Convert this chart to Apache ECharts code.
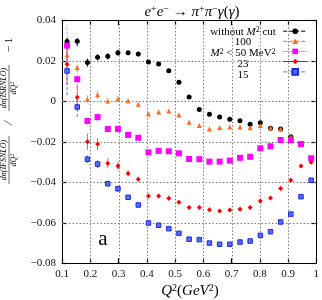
<!DOCTYPE html>
<html><head><meta charset="utf-8">
<script src="https://cdn.jsdelivr.net/npm/echarts@6/dist/echarts.min.js"></script>
<style>html,body{margin:0;padding:0;background:#fff}#c{width:322px;height:300px}</style>
</head><body><div id="c"></div>
<script>
// Q^2 bin centres (GeV^2)
const q2 = [0.118, 0.154, 0.190, 0.226, 0.262, 0.298, 0.334, 0.370, 0.406, 0.442, 0.478, 0.514, 0.550,
            0.586, 0.622, 0.658, 0.694, 0.730, 0.766, 0.802, 0.838, 0.874, 0.910, 0.946, 0.982];
const xTicks = [0.1, 0.2, 0.3, 0.4, 0.5, 0.6, 0.7, 0.8, 0.9, 1];
const yTicks = [-0.08, -0.06, -0.04, -0.02, 0, 0.02, 0.04];
const seriesNames = ['without M2 cut', '100', 'M2 < 50 MeV2', '23', '15'];

const noCut = [0.0295, 0.0297, 0.0191, 0.0217, 0.0222, 0.0240, 0.0240, 0.0234, 0.0194, 0.0184, 0.0151, 0.0094, 0.0021,
               -0.0040, -0.0064, -0.0078, -0.0089, -0.0096, -0.0113, -0.0106, -0.0133, -0.0137, -0.0175, null, null];
const cut100 = [0.0229, 0.0167, 0.0010, 0.0032, 0.0001, 0.0011, 0.0003, -0.0015, -0.0063, -0.0053, -0.0048, -0.0068, -0.0104,
                -0.0119, -0.0137, -0.0131, -0.0127, -0.0127, -0.0130, -0.0119, -0.0131, -0.0137, -0.0175, null, null];
const cut50 = [0.0275, 0.0109, -0.0097, -0.0078, -0.0137, -0.0137, -0.0166, -0.0180, -0.0252, -0.0245, -0.0247, -0.0257, -0.0285,
               -0.0286, -0.0298, -0.0298, -0.0293, -0.0279, -0.0274, -0.0232, -0.0222, -0.0191, -0.0192, -0.0211, -0.0281];
const cut23 = [0.0183, 0.0020, -0.0200, -0.0211, -0.0306, -0.0320, -0.0356, -0.0385, -0.0468, -0.0468, -0.0479, -0.0499, -0.0525,
               -0.0525, -0.0535, -0.0542, -0.0537, -0.0533, -0.0525, -0.0492, -0.0478, -0.0430, -0.0390, -0.0319, -0.0301];
const cut15 = [0.0150, -0.0028, -0.0286, -0.0310, -0.0407, -0.0432, -0.0474, -0.0512, -0.0601, -0.0612, -0.0629, -0.0652, -0.0681,
               -0.0683, -0.0700, -0.0706, -0.0706, -0.0695, -0.0690, -0.0662, -0.0644, -0.0596, -0.0557, -0.0471, -0.0390];

const errNoCut = [0.0020, 0.0025, 0.0020, 0.0015, 0.0015, 0.0015, 0.0012, 0.0012, 0.0010, 0.0010, 0.0010, 0.0010, 0.0010,
                  0.0010, 0.0010, 0.0010, 0.0010, 0.0010, 0.0010, 0.0010, 0.0010, 0.0010, 0.0010, null, null];
const err100 = [0.0040, 0.0025, 0.0020, 0.0020, 0.0015, 0.0015, 0.0012, 0.0012, 0.0010, 0.0010, 0.0010, 0.0010, 0.0010,
                0.0010, 0.0010, 0.0010, 0.0010, 0.0010, 0.0010, 0.0010, 0.0010, 0.0010, 0.0010, null, null];
const err50 = [0.0110, 0.0040, 0.0020, 0.0020, 0.0015, 0.0015, 0.0012, 0.0012, 0.0010, 0.0010, 0.0010, 0.0010, 0.0010,
               0.0010, 0.0010, 0.0010, 0.0010, 0.0010, 0.0010, 0.0010, 0.0010, 0.0010, 0.0010, 0.0010, 0.0010];
const err23 = [0.0100, 0.0060, 0.0040, 0.0030, 0.0025, 0.0020, 0.0015, 0.0012, 0.0010, 0.0010, 0.0010, 0.0010, 0.0010,
               0.0010, 0.0010, 0.0010, 0.0010, 0.0010, 0.0010, 0.0010, 0.0010, 0.0010, 0.0010, 0.0010, 0.0010];
const err15 = [0.0120, 0.0050, 0.0020, 0.0020, 0.0015, 0.0015, 0.0012, 0.0012, 0.0010, 0.0010, 0.0010, 0.0010, 0.0010,
               0.0010, 0.0010, 0.0010, 0.0010, 0.0010, 0.0010, 0.0010, 0.0010, 0.0010, 0.0010, 0.0010, 0.0010];

const FONT = '"Liberation Serif", "DejaVu Serif", serif';
const styles = [
  {vals: noCut, err: errNoCut, color: '#000000', border: '#000000', bar: '#000000', symbol: 'circle', size: 5, dash: [3, 2], type: 'dashed'},
  {vals: cut100, err: err100, color: '#ff6a1f', border: '#ff6a1f', bar: '#ff9a66', symbol: 'triangle', size: 5, dash: [3, 2], type: 'dashed'},
  {vals: cut50, err: err50, color: '#ff00ff', border: '#ff00ff', bar: '#ff66ff', symbol: 'rect', size: 6, dash: [1, 1.5], type: 'dotted'},
  {vals: cut23, err: err23, color: '#ff0000', border: '#ff0000', bar: '#ff5555', symbol: 'diamond', size: 5, dash: null, type: 'solid'},
  {vals: cut15, err: err15, color: '#5a6bff', border: '#1a2ae0', bar: '#5566ff', symbol: 'rect', size: 4.5, dash: [3, 2], type: 'dashed'}
];

const X0 = xTicks[0], X1 = xTicks[xTicks.length - 1];
const Y0 = yTicks[0], Y1 = yTicks[yTicks.length - 1];
const GRID_COLOR = '#7a7a7a', GRID_DASH = [1.5, 2];
const crisp = v => Math.round(v) + 0.5;

const series = [];
// dotted grid lines at the interior ticks, drawn through the axes' scales
series.push({
  name: 'gridX', type: 'custom', silent: true, z: 1, clip: false,
  data: xTicks.slice(1, -1).map(x => [x, 0]), encode: {x: 0, y: 1},
  renderItem: (params, api) => {
    const a = api.coord([api.value(0), Y0]), b = api.coord([api.value(0), Y1]);
    const x = crisp(a[0]);
    return {type: 'line', shape: {x1: x, y1: a[1], x2: x, y2: b[1]},
            style: {stroke: GRID_COLOR, lineWidth: 1, lineDash: GRID_DASH, opacity: 1}};
  }
});
series.push({
  name: 'gridY', type: 'custom', silent: true, z: 1, clip: false,
  data: yTicks.slice(1, -1).map(y => [0.5, y]), encode: {x: 0, y: 1},
  renderItem: (params, api) => {
    const a = api.coord([X0, api.value(1)]), b = api.coord([X1, api.value(1)]);
    const y = crisp(a[1]);
    return {type: 'line', shape: {x1: a[0], y1: y, x2: b[0], y2: y},
            style: {stroke: GRID_COLOR, lineWidth: 1, lineDash: GRID_DASH, opacity: 1}};
  }
});

styles.forEach((s, k) => {
  const pts = [], bars = [];
  q2.forEach((x, i) => {
    if (s.vals[i] != null) {
      pts.push([x, s.vals[i]]);
      bars.push([x, s.vals[i], s.err[i]]);
    }
  });
  series.push({
    name: 'err' + k, type: 'custom', silent: true, z: 2,
    data: bars, encode: {x: 0, y: 1},
    renderItem: (params, api) => {
      const x = api.value(0), y = api.value(1), e = api.value(2);
      const p1 = api.coord([x, y - e]), p2 = api.coord([x, y + e]);
      return {type: 'line', shape: {x1: p1[0], y1: p1[1], x2: p2[0], y2: p2[1]},
              style: {stroke: s.bar, lineWidth: 1, lineDash: s.dash}};
    }
  });
  series.push({
    name: seriesNames[k], type: 'line', data: pts, z: 3 + k,
    symbol: s.symbol, symbolSize: s.size, showSymbol: true, showAllSymbol: true,
    lineStyle: {opacity: 0, width: 0},
    itemStyle: {color: s.color, borderColor: s.border, borderWidth: k === 4 ? 1 : 0},
    emphasis: {disabled: true}, silent: true
  });
});

const fmtY = v => v === 0 ? '0' : (v < 0 ? '\u2212' : '') + Math.abs(v).toFixed(2);
const fmtX = v => String(+v.toFixed(1));

const legendRows = [31.7, 42.5, 53.3, 64.1, 74.9];
const legendText = ['without {i|M}{s|2} cut', '100', '{i|M}{s|2} < 50 MeV{s|2}', '23', '15'];
const rich = {
  i: {fontStyle: 'italic', fontFamily: FONT, fontSize: 11, color: '#000'},
  s: {fontSize: 8, fontFamily: FONT, verticalAlign: 'top', lineHeight: 8, color: '#000'}
};

const graphics = [];
legendRows.forEach((y, k) => {
  graphics.push({type: 'text', x: 243, y: y, silent: true,
    style: {text: legendText[k], rich: rich, fontFamily: FONT, fontSize: 11, fill: '#000',
            align: 'center', verticalAlign: 'middle'}});
});
// title
graphics.push({type: 'text', x: 192, y: 12, silent: true,
  style: {text: '{i|e}{s|+}{i|e}{s|\u2212} \u2192 {i|\u03c0}{s|+}{i|\u03c0}{s|\u2212}{i|\u03b3}({i|\u03b3})',
    rich: {i: {fontStyle: 'italic', fontFamily: FONT, fontSize: 15, color: '#000'},
           s: {fontSize: 10, fontFamily: FONT, verticalAlign: 'top', lineHeight: 10, color: '#000'}},
    fontFamily: FONT, fontSize: 15, fill: '#000', align: 'center', verticalAlign: 'middle'}});
// x axis name
graphics.push({type: 'text', x: 190, y: 291, silent: true,
  style: {text: '{i|Q}{s|2}({i|GeV}{s|2})',
    rich: {i: {fontStyle: 'italic', fontFamily: FONT, fontSize: 15, color: '#000'},
           s: {fontSize: 10, fontFamily: FONT, verticalAlign: 'top', lineHeight: 10, color: '#000'}},
    fontFamily: FONT, fontSize: 15, fill: '#000', align: 'center', verticalAlign: 'middle'}});
// panel label
graphics.push({type: 'text', x: 102.8, y: 239.6, silent: true,
  style: {text: 'a', fontFamily: FONT, fontSize: 21, fill: '#000', align: 'center', verticalAlign: 'middle'}});

// y axis label (rotated)
const fr = {fontStyle: 'italic', fontFamily: FONT, fontSize: 8, fill: '#000'};
const frRich = {s: {fontSize: 6, fontFamily: FONT, fontStyle: 'italic', verticalAlign: 'top', lineHeight: 6, color: '#000'}};
function frac(cx, num, w) {
  return [
    {type: 'text', x: cx, y: -0.8, style: Object.assign({text: num, align: 'center', verticalAlign: 'bottom'}, fr)},
    {type: 'line', shape: {x1: cx - w / 2, y1: 0, x2: cx + w / 2, y2: 0}, style: {stroke: '#000', lineWidth: 0.6}},
    {type: 'text', x: cx, y: 0.8, style: Object.assign({text: 'dQ{s|2}', rich: frRich, align: 'center', verticalAlign: 'top'}, fr)}
  ];
}
graphics.push({type: 'group', x: 9, y: 250, rotation: Math.PI / 2, silent: true,
  children: [].concat(
    frac(90, 'd\u03c3(IFSNLO)', 48),
    [{type: 'text', x: 127, y: 0, style: {text: '/', fontFamily: FONT, fontStyle: 'italic', fontSize: 13, fill: '#000', align: 'center', verticalAlign: 'middle'}}],
    frac(162, 'd\u03c3(ISRNLO)', 46),
    [{type: 'text', x: 205, y: 0, style: {text: '\u2212 1', fontFamily: FONT, fontSize: 11, fill: '#000', align: 'center', verticalAlign: 'middle'}}]
  )});

function axisLine() { return {show: true, onZero: false, lineStyle: {color: '#000', width: 1}}; }
function axisTick() { return {show: true, inside: true, length: 5, lineStyle: {color: '#000', width: 1.2}}; }

const chart = echarts.init(document.getElementById('c'), null, {renderer: 'canvas'});
chart.setOption({
  animation: false,
  backgroundColor: '#fff',
  grid: {left: 62, right: 3.5, top: 20.3, bottom: 36.7, containLabel: false},
  xAxis: [
    {type: 'value', min: X0, max: X1, interval: 0.1, position: 'bottom',
      axisLine: axisLine(), axisTick: axisTick(),
      axisLabel: {formatter: fmtX, fontFamily: FONT, fontSize: 11, color: '#111', margin: 5},
      splitLine: {show: false}},
    {type: 'value', min: X0, max: X1, interval: 0.1, position: 'top',
      axisLine: axisLine(), axisTick: axisTick(),
      axisLabel: {show: false}, splitLine: {show: false}}
  ],
  yAxis: [
    {type: 'value', min: Y0, max: Y1, interval: 0.02, position: 'left',
      axisLine: axisLine(), axisTick: axisTick(),
      axisLabel: {formatter: fmtY, fontFamily: FONT, fontSize: 11, color: '#111', margin: 6},
      splitLine: {show: false}},
    {type: 'value', min: Y0, max: Y1, interval: 0.02, position: 'right',
      axisLine: axisLine(), axisTick: axisTick(),
      axisLabel: {show: false}, splitLine: {show: false}}
  ],
  legend: {
    orient: 'vertical', right: 14.3, top: 27.7, align: 'right', padding: 0,
    itemWidth: 24, itemHeight: 7, itemGap: 3.8, selectedMode: false,
    formatter: () => '', textStyle: {fontSize: 6},
    data: styles.map((s, k) => ({
      name: seriesNames[k],
      lineStyle: {color: s.color, width: 1, type: s.type, opacity: 1}
    }))
  },
  series: series,
  graphic: graphics
});
</script></body></html>
